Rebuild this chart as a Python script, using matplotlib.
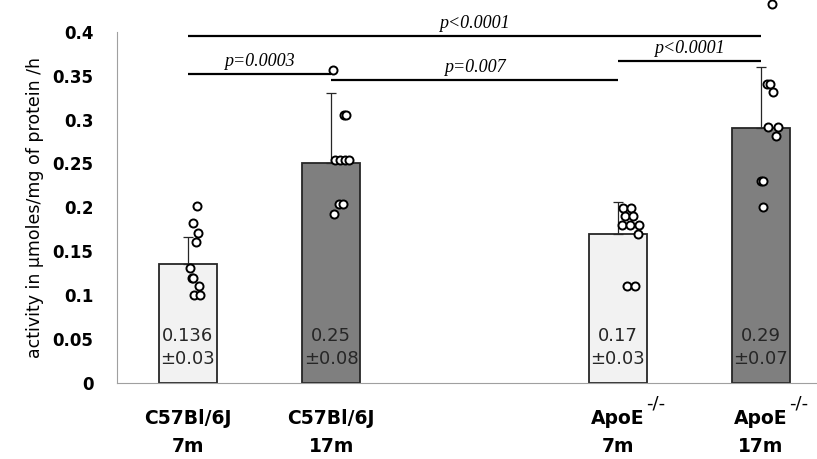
import matplotlib
matplotlib.use("Agg")
import matplotlib.pyplot as plt
import numpy as np

# ---------------- data ----------------
positions = [0, 1, 3, 4]
label_line1 = ["C57Bl/6J", "C57Bl/6J", "ApoE", "ApoE"]
label_sup = ["", "", "-/-", "-/-"]
label_line2 = ["7m", "17m", "7m", "17m"]
means = [0.136, 0.25, 0.17, 0.29]
errors = [0.03, 0.08, 0.036, 0.07]
mean_labels = ["0.136", "0.25", "0.17", "0.29"]
sd_labels = ["\u00b10.03", "\u00b10.08", "\u00b10.03", "\u00b10.07"]
bar_colors = ["#f2f2f2", "#7f7f7f", "#f2f2f2", "#7f7f7f"]

pts_c57_7m = [0.202, 0.182, 0.171, 0.161, 0.131, 0.120, 0.120, 0.110, 0.100, 0.100]
jit_c57_7m = [0.061, 0.033, 0.072, 0.056, 0.014, 0.026, 0.037, 0.079, 0.044, 0.084]
pts_c57_17m = [0.356, 0.305, 0.305, 0.254, 0.254, 0.254, 0.254, 0.204, 0.204, 0.193]
jit_c57_17m = [0.009, 0.091, 0.105, 0.028, 0.063, 0.098, 0.121, 0.051, 0.082, 0.021]
pts_apoe_7m = [0.199, 0.199, 0.190, 0.190, 0.180, 0.180, 0.180, 0.170, 0.110, 0.110]
jit_apoe_7m = [0.035, 0.091, 0.049, 0.105, 0.028, 0.084, 0.147, 0.140, 0.063, 0.119]
pts_apoe_17m = [0.432, 0.341, 0.341, 0.331, 0.291, 0.291, 0.281, 0.230, 0.230, 0.200]
jit_apoe_17m = [0.075, 0.040, 0.063, 0.084, 0.047, 0.117, 0.105, -0.002, 0.012, 0.014]

# comparisons given as bar indices
comp_from = [0, 1, 0, 2]
comp_to = [1, 2, 3, 3]
comp_y = [0.352, 0.345, 0.395, 0.367]
comp_labels = ["p=0.0003", "p=0.007", "p<0.0001", "p<0.0001"]

yticks = [0, 0.05, 0.1, 0.15, 0.2, 0.25, 0.3, 0.35, 0.4]
ytick_labels = ["0", "0.05", "0.1", "0.15", "0.2", "0.25", "0.3", "0.35", "0.4"]
ylabel = "activity in \u00b5moles/mg of protein /h"

# ---------------- figure ----------------
W, H = 817, 459
fig = plt.figure(figsize=(W / 100, H / 100), dpi=100)
ax = fig.add_axes([117 / W, 76 / H, 700 / W, 383 / H])
ax.set_xlim(-0.4956, 4.391)
ax.set_ylim(0, 0.4362)

ax.bar(positions, means, width=0.405, color=bar_colors, edgecolor="#262626",
       linewidth=1.3, zorder=2)
ax.errorbar(positions, means, yerr=[np.zeros(len(errors)), errors], fmt="none",
            ecolor="#262626", elinewidth=0.9, capsize=3.6, capthick=0.9, zorder=3)

all_pts = [pts_c57_7m, pts_c57_17m, pts_apoe_7m, pts_apoe_17m]
all_jit = [jit_c57_7m, jit_c57_17m, jit_apoe_7m, jit_apoe_17m]
for p, vals, jit in zip(positions, all_pts, all_jit):
    ax.plot(p + np.array(jit), vals, "o", mfc="white", mec="black", ms=5.8,
            mew=1.4, clip_on=False, zorder=5)

# values inside bars
for p, ml, sl in zip(positions, mean_labels, sd_labels):
    ax.text(p, 0.0535, ml, ha="center", va="center", fontsize=13, color="#262626", zorder=4)
    ax.text(p, 0.0273, sl, ha="center", va="center", fontsize=13, color="#262626", zorder=4)

# significance lines
for a, b, y, lab in zip(comp_from, comp_to, comp_y, comp_labels):
    xa, xb = positions[a], positions[b]
    ax.plot([xa, xb], [y, y], color="black", lw=1.6,
            solid_capstyle="butt", clip_on=False, zorder=4)
    ax.annotate(lab, xy=((xa + xb) / 2, y), xytext=(0, 9),
                textcoords="offset points", ha="center", va="center",
                fontsize=13, fontstyle="italic", family="Liberation Serif")

# axes styling
for s in ["top", "right"]:
    ax.spines[s].set_visible(False)
ax.spines["left"].set_bounds(0, 0.4)
ax.spines["left"].set_color("#a0a0a0")
ax.spines["bottom"].set_color("#a0a0a0")
ax.set_yticks(yticks)
ax.set_yticklabels(ytick_labels, fontsize=12, fontweight="bold")
ax.tick_params(axis="y", length=0, pad=17)
ax.set_xticks([])

# x labels
for p, l1, sup, l2 in zip(positions, label_line1, label_sup, label_line2):
    t1 = ax.annotate(l1, xy=(p, 0), xycoords=("data", "axes fraction"),
                     xytext=(0, -25.5), textcoords="offset points",
                     ha="center", va="center", fontsize=13.5, fontweight="bold")
    ax.annotate(l2, xy=(p, 0), xycoords=("data", "axes fraction"),
                xytext=(0, -45.5), textcoords="offset points",
                ha="center", va="center", fontsize=13.5, fontweight="bold")
    if sup:
        ax.annotate(sup, xy=(1, 1), xycoords=t1, xytext=(1, 4),
                    textcoords="offset points", ha="left", va="center", fontsize=13)

fig.text(35 / W, (H - 207) / H, ylabel, rotation=90, ha="center", va="center",
         fontsize=12.5)

fig.savefig("out.png", dpi=100)
